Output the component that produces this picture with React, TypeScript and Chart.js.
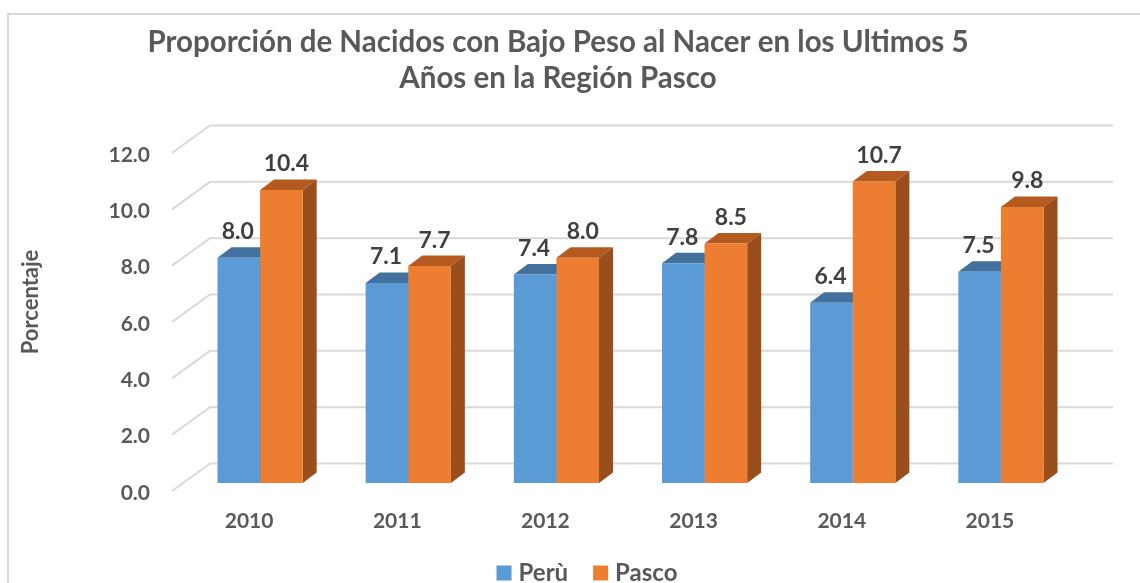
import { useEffect, useRef } from 'react';
import { Chart, registerables } from 'chart.js';

Chart.register(...registerables);

const categories = ['2010', '2011', '2012', '2013', '2014', '2015'];
const peruValues = [8.0, 7.1, 7.4, 7.8, 6.4, 7.5];
const pascoValues = [10.4, 7.7, 8.0, 8.5, 10.7, 9.8];
const seriesNames = ['Perù', 'Pasco'];
const yTickValues = [0, 2, 4, 6, 8, 10, 12];
const titleLines = [
  'Proporción de Nacidos con Bajo Peso al Nacer en los Ultimos 5',
  'Años en la Región Pasco',
];
const yAxisTitle = 'Porcentaje';

const FONT = 'Lato, "Open Sans", sans-serif';
const TEXT = '#595959';
const frontColors = ['#5B9BD5', '#ED7D31'];
const topColors = ['#41719C', '#B45A1F'];
const sideColors = ['#3A6690', '#994E1C'];
const DX = 14;
const DY = -10.5;

const threeDPlugin = {
  id: 'threeD',
  beforeDraw(chart: any) {
    const ctx = chart.ctx;
    ctx.save();
    ctx.strokeStyle = '#D9D9D9';
    ctx.lineWidth = 2;
    ctx.strokeRect(8, 14, 3000, 3000);
    ctx.restore();
  },
  beforeDatasetsDraw(chart: any) {
    const ctx = chart.ctx;
    const ys = chart.scales.y;
    const { left, right } = chart.chartArea;
    ctx.save();
    ctx.strokeStyle = '#D9D9D9';
    ctx.lineWidth = 2;
    yTickValues.forEach((v) => {
      const py = ys.getPixelForValue(v);
      ctx.beginPath();
      ctx.moveTo(left - 14, py + 8);
      ctx.lineTo(left + 24, py - 19.5);
      ctx.lineTo(right + 38, py - 19.5);
      ctx.stroke();
    });
    chart.data.datasets.forEach((_ds: any, i: number) => {
      const meta = chart.getDatasetMeta(i);
      meta.data.forEach((bar: any) => {
        const { x, y, base, width } = bar.getProps(['x', 'y', 'base', 'width'], true);
        const l = x - width / 2;
        const r = x + width / 2;
        ctx.fillStyle = topColors[i];
        ctx.beginPath();
        ctx.moveTo(l, y);
        ctx.lineTo(l + DX, y + DY);
        ctx.lineTo(r + DX, y + DY);
        ctx.lineTo(r, y);
        ctx.closePath();
        ctx.fill();
        ctx.fillStyle = sideColors[i];
        ctx.beginPath();
        ctx.moveTo(r, y);
        ctx.lineTo(r + DX, y + DY);
        ctx.lineTo(r + DX, base + DY);
        ctx.lineTo(r, base);
        ctx.closePath();
        ctx.fill();
      });
    });
    ctx.restore();
  },
  afterDatasetsDraw(chart: any) {
    const ctx = chart.ctx;
    ctx.save();
    ctx.font = `bold 23px ${FONT}`;
    ctx.fillStyle = '#404040';
    ctx.textAlign = 'center';
    ctx.textBaseline = 'middle';
    chart.data.datasets.forEach((ds: any, i: number) => {
      const meta = chart.getDatasetMeta(i);
      meta.data.forEach((bar: any, j: number) => {
        const { x, y } = bar.getProps(['x', 'y'], true);
        const off = i === 1 ? 5 : -1;
        ctx.fillText(Number(ds.data[j]).toFixed(1), x + off, y - 26);
      });
    });
    ctx.restore();
  },
  afterDraw(chart: any) {
    const ctx = chart.ctx;
    ctx.save();
    ctx.font = `bold 22px ${FONT}`;
    ctx.fillStyle = TEXT;
    ctx.textAlign = 'center';
    ctx.textBaseline = 'middle';
    ctx.translate(31, 302);
    ctx.rotate(-Math.PI / 2);
    ctx.fillText(yAxisTitle, 0, 0);
    ctx.restore();

    ctx.save();
    ctx.font = `bold 24px ${FONT}`;
    ctx.textBaseline = 'middle';
    ctx.textAlign = 'left';
    const box = 15;
    const gapText = 7;
    const gapItem = 25;
    const widths = seriesNames.map((n) => ctx.measureText(n).width);
    const total = widths.reduce((a, w) => a + box + gapText + w, 0) + gapItem * (seriesNames.length - 1);
    let cx = 587 - total / 2;
    const cy = 573;
    seriesNames.forEach((n, i) => {
      ctx.fillStyle = frontColors[i];
      ctx.fillRect(cx, cy - box / 2, box, box);
      cx += box + gapText;
      ctx.fillStyle = TEXT;
      ctx.fillText(n, cx, cy);
      cx += widths[i] + gapItem;
    });
    ctx.restore();
  },
};

export default function App() {
  const ref = useRef<HTMLCanvasElement | null>(null);
  useEffect(() => {
    if (!ref.current) return;
    const chart = new Chart(ref.current, {
      type: 'bar',
      data: {
        labels: categories,
        datasets: [
          {
            label: seriesNames[0],
            data: peruValues,
            backgroundColor: frontColors[0],
            categoryPercentage: 0.575,
            barPercentage: 1,
          },
          {
            label: seriesNames[1],
            data: pascoValues,
            backgroundColor: frontColors[1],
            categoryPercentage: 0.575,
            barPercentage: 1,
          },
        ],
      },
      options: {
        responsive: false,
        animation: false,
        layout: { padding: { left: 41, right: 65, top: 0, bottom: 0 } },
        plugins: {
          legend: { display: false },
          tooltip: { enabled: false },
          title: {
            display: true,
            text: titleLines,
            color: TEXT,
            font: { family: FONT, size: 29.5, weight: 'bold', lineHeight: 36 / 29.5 },
            padding: { top: 24, bottom: 49 },
          },
        },
        scales: {
          x: {
            grid: { display: false, drawTicks: false },
            border: { display: false },
            ticks: {
              color: TEXT,
              font: { family: FONT, size: 21, weight: 'bold' },
              labelOffset: -11,
              padding: 26,
            },
            afterFit: (s: any) => {
              s.height = 100;
            },
          },
          y: {
            min: 0,
            max: 12,
            grid: { display: false, drawTicks: false },
            border: { display: false },
            ticks: {
              stepSize: 2,
              callback: (v: any) => Number(v).toFixed(1),
              color: TEXT,
              font: { family: FONT, size: 21, weight: 'bold' },
              padding: 36,
              labelOffset: 10,
            },
            afterFit: (s: any) => {
              s.width = 145;
            },
          },
        },
      },
      plugins: [threeDPlugin],
    } as any);
    return () => chart.destroy();
  }, []);
  return (
    <div style={{ position: 'fixed', left: 0, top: 0, width: 1140, height: 583, background: '#fff', overflow: 'hidden' }}>
      <canvas ref={ref} width={1140} height={583} style={{ display: 'block' }} />
    </div>
  );
}
